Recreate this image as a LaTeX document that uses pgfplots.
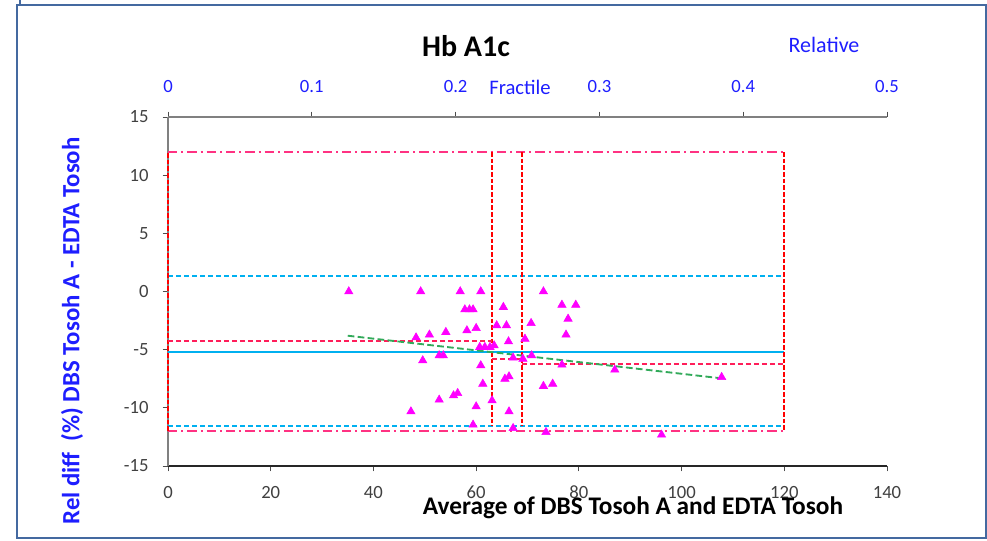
\documentclass[border=0pt]{standalone}
\usepackage{fontspec}
\setmainfont{Carlito}
\usepackage{pgfplots}
\pgfplotsset{compat=1.18}

\definecolor{frameblue}{RGB}{68,105,160}
\definecolor{limpink}{RGB}{255,50,130}
\definecolor{stepred}{RGB}{255,30,90}
\definecolor{skyblue}{RGB}{0,176,240}
\definecolor{trendgreen}{RGB}{50,170,90}
\definecolor{ptmag}{RGB}{255,0,255}
\definecolor{lblblue}{RGB}{30,30,255}

\pgfplotsset{
  ddash/.style={limpink, line width=1.3pt, dash pattern=on 7pt off 3pt on 1.5pt off 3pt},
  bdash/.style={skyblue, line width=1.3pt, dash pattern=on 4pt off 2pt},
  rdash/.style={red, line width=1.3pt, dash pattern=on 3.5pt off 1.5pt},
  sdash/.style={stepred, line width=1.3pt, dash pattern=on 4pt off 2pt},
}

\begin{document}
\begin{tikzpicture}
\useasboundingbox (-126pt,-55.5pt) rectangle (614.25pt,349.5pt);
\draw[frameblue, line width=1.5pt] (-113.25pt,-54pt) rectangle (613.5pt,345.75pt);
\draw[frameblue, line width=1.5pt] (-111pt,345.75pt) -- (-111pt,349.5pt);

\begin{axis}[
    at={(0,0)}, anchor=south west,
    scale only axis,
    width=539.25pt, height=261.75pt,
    xmin=0, xmax=140, ymin=-15, ymax=15,
    axis x line*=bottom, axis y line*=left,
    x axis line style={black!85, line width=0.9pt},
    y axis line style={gray, line width=0.9pt},
    xtick={0,20,...,140}, xticklabels={0,20,40,60,80,100,120,140},
    ytick={-15,-10,...,15}, yticklabels={-15,-10,-5,0,5,10,15},
    tick align=outside,
    major tick length=4pt,
    tick style={black!70, line width=0.6pt},
    ticklabel style={font=\fontsize{14}{16}\selectfont, text=black!75},
    xticklabel shift=7.5pt,
    yticklabel shift=7pt,
    clip=false,
]
% limits of agreement and reference lines
\addplot[ddash] coordinates {(0,12) (120,12)};
\addplot[ddash] coordinates {(0,-12) (120,-12)};
\addplot[bdash] coordinates {(0,1.35) (120,1.35)};
\addplot[bdash] coordinates {(0,-11.57) (120,-11.57)};
\addplot[skyblue, line width=1.4pt] coordinates {(0,-5.23) (120,-5.23)};
\addplot[rdash] coordinates {(0,-12) (0,12)};
\addplot[rdash] coordinates {(120,12) (120,-12)};
\addplot[rdash] coordinates {(63.1,12) (63.1,-11.57)};
\addplot[rdash] coordinates {(68.9,12) (68.9,-11.57)};
\addplot[sdash] coordinates {(0,-4.25) (63.1,-4.25)};
\addplot[sdash] coordinates {(63.1,-5.83) (68.9,-5.83)};
\addplot[sdash] coordinates {(68.9,-6.23) (120,-6.23)};
% trend
\addplot[trendgreen, line width=1.4pt, dash pattern=on 5pt off 2.5pt] coordinates {(35,-3.8) (107.5,-7.45)};
% data
\addplot[only marks, mark=triangle*, mark size=3.6pt, color=ptmag] coordinates {
(35.2,0) (49.2,0) (56.9,0) (60.9,0) (73.1,0)
(57.8,-1.55) (58.7,-1.55) (59.4,-1.55) (65.3,-1.34) (76.7,-1.15) (79.4,-1.15)
(77.9,-2.35) (77.5,-3.72) (48.3,-3.96) (50.9,-3.72) (54.1,-3.49) (58.2,-3.35)
(60.0,-3.15) (64.0,-2.92) (65.9,-2.92) (70.7,-2.72) (66.3,-4.30) (69.5,-4.07)
(60.7,-4.78) (61.7,-4.78) (62.7,-4.78) (63.5,-4.64) (49.6,-5.93) (52.8,-5.50)
(53.6,-5.50) (67.2,-5.70) (69.1,-5.79) (70.8,-5.50) (76.7,-6.30) (60.9,-6.36)
(87.0,-6.73) (107.8,-7.36) (61.3,-7.94) (65.6,-7.51) (66.4,-7.31) (73.1,-8.13)
(74.9,-7.94) (52.8,-9.31) (55.6,-8.94) (56.4,-8.74) (47.3,-10.32) (60.0,-9.89)
(63.1,-9.37) (66.4,-10.32) (59.4,-11.46) (67.2,-11.75) (73.6,-12.09) (96.1,-12.32)
};
\end{axis}

\begin{axis}[
    at={(0,0)}, anchor=south west,
    scale only axis,
    width=539.25pt, height=261.75pt,
    xmin=0, xmax=0.5, ymin=-15, ymax=15,
    axis x line*=top,
    hide y axis,
    x axis line style={gray, line width=0.9pt},
    xtick={0,0.1,...,0.5}, xticklabels={0,0.1,0.2,0.3,0.4,0.5},
    tick align=outside,
    major tick length=4pt,
    tick style={black!70, line width=0.6pt},
    xticklabel style={font=\fontsize{14}{16}\selectfont, text=lblblue},
    xticklabel shift=10.5pt,
]
\addplot[draw=none] coordinates {(0,0) (0.5,0)};
\end{axis}

\node[font=\bfseries\fontsize{22.5}{24}\selectfont] at (223.5pt,315pt) {Hb A1c};
\node[font=\fontsize{16.5}{18}\selectfont, text=lblblue] at (492pt,315.75pt) {Relative};
\node[font=\fontsize{15.5}{17}\selectfont, text=lblblue] at (264pt,284pt) {Fractile};
\node[font=\bfseries\fontsize{19}{21}\selectfont] at (348.75pt,-31.5pt) {Average of DBS Tosoh A and EDTA Tosoh};
\node[font=\bfseries\fontsize{18.6}{20}\selectfont, text=lblblue, rotate=90] at (-72pt,101.25pt) {Rel diff\ \ (\%) DBS Tosoh A - EDTA Tosoh};
\end{tikzpicture}
\end{document}
